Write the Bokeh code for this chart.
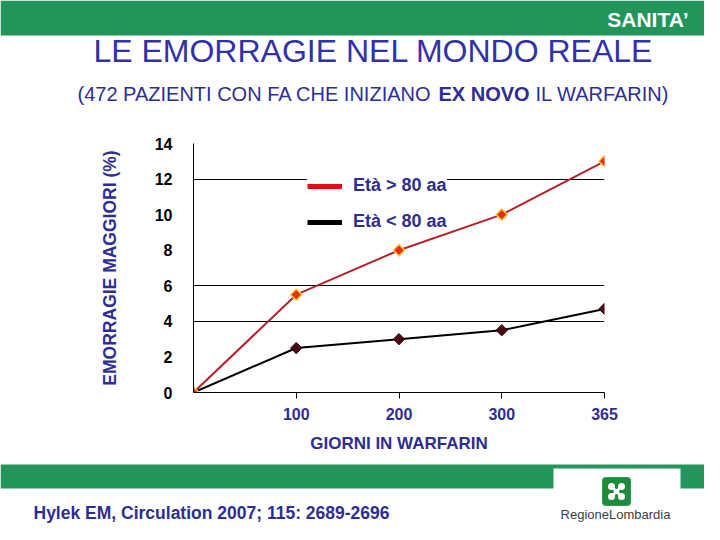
import math
from bokeh.plotting import figure
from bokeh.layouts import column, row
from bokeh.models import Range1d, FixedTicker, Legend, LegendItem
from bokeh.core.properties import value
from bokeh.embed import file_html
from bokeh.resources import INLINE

# ---------------- data ----------------
days = [0, 100, 200, 300, 365]
over80 = [0, 5.5, 8.0, 10.0, 13.0]
under80 = [0, 2.5, 3.0, 3.5, 4.7]
y_ticks = [0, 2, 4, 6, 8, 10, 12, 14]
grid_levels = [4, 6, 12]
series_names = ["Età > 80 aa", "Età < 80 aa"]

title_text = "LE EMORRAGIE NEL MONDO REALE"
sub_a = "(472 PAZIENTI CON FA CHE INIZIANO"
sub_b = "EX NOVO"
sub_c = "IL WARFARIN)"
citation = "Hylek EM, Circulation 2007; 115: 2689-2696"

FONT = value("Liberation Sans")
NAVY = "#2e2e92"
GREEN = "#21955a"
W = 704


def deco(height, y_top):
    f = figure(width=W, height=height, output_backend="svg", toolbar_location=None,
               x_range=Range1d(0, W), y_range=Range1d(y_top + height, y_top),
               x_axis_type=None, y_axis_type=None, min_border=0)
    f.outline_line_color = None
    f.xgrid.visible = False
    f.ygrid.visible = False
    f.background_fill_color = "white"
    f.border_fill_color = "white"
    return f

# ---------------- top band ----------------
top = deco(130, 0)
top.quad(left=[0], right=[720], top=[0], bottom=[35], fill_color=GREEN, line_color=None)
top.text(x=[688], y=[19], text=["SANITA’"], text_font=FONT, text_font_style="bold",
         text_font_size="21px", text_color="white", text_align="right", text_baseline="middle")
top.text(x=[373], y=[50], text=[title_text], text_font=FONT, text_font_size="32px",
         text_color="#3232a8", text_align="center", text_baseline="middle")
top.text(x=[77], y=[93], text=[sub_a], text_font=FONT, text_font_size="20px",
         text_color=NAVY, text_align="left", text_baseline="middle")
top.text(x=[438], y=[93], text=[sub_b], text_font=FONT, text_font_size="20px", text_font_style="bold",
         text_color=NAVY, text_align="left", text_baseline="middle")
top.text(x=[535], y=[93], text=[sub_c], text_font=FONT, text_font_size="20px",
         text_color=NAVY, text_align="left", text_baseline="middle")

# ---------------- main chart ----------------
xs = list(range(len(days)))
p = figure(width=W, height=330, output_backend="svg", toolbar_location=None,
           x_range=Range1d(0, len(days) - 1), y_range=Range1d(y_ticks[0], y_ticks[-1]),
           min_border_left=193, min_border_right=100, min_border_top=13, min_border_bottom=68)
p.outline_line_color = None
p.xgrid.visible = False
p.ygrid.visible = False
p.background_fill_color = "white"
p.border_fill_color = "white"

p.hspan(y=grid_levels, line_color="black", line_width=1)

# x axis
p.xaxis.ticker = FixedTicker(ticks=xs[1:])
p.xaxis.major_label_overrides = {i: str(d) for i, d in zip(xs, days)}
p.xaxis.axis_label = "GIORNI IN WARFARIN"
p.xaxis.axis_label_text_font = "Liberation Sans"
p.xaxis.axis_label_text_font_style = "bold"
p.xaxis.axis_label_text_font_size = "17px"
p.xaxis.axis_label_text_color = NAVY
p.xaxis.axis_label_standoff = 11
p.xaxis.major_label_text_font = "Liberation Sans"
p.xaxis.major_label_text_font_style = "bold"
p.xaxis.major_label_text_font_size = "16px"
p.xaxis.major_label_text_color = NAVY
p.xaxis.major_label_standoff = 9
p.xaxis.major_tick_in = 0
p.xaxis.major_tick_out = 6
p.xaxis.major_tick_line_color = "black"
p.xaxis.minor_tick_line_color = None
p.xaxis.axis_line_color = "black"

# y axis
p.yaxis.ticker = FixedTicker(ticks=y_ticks)
p.yaxis.axis_label = "EMORRAGIE MAGGIORI (%)"
p.yaxis.axis_label_text_font = "Liberation Sans"
p.yaxis.axis_label_text_font_style = "bold"
p.yaxis.axis_label_text_font_size = "17.5px"
p.yaxis.axis_label_text_color = NAVY
p.yaxis.axis_label_standoff = 32
p.yaxis.major_label_text_font = "Liberation Sans"
p.yaxis.major_label_text_font_style = "bold"
p.yaxis.major_label_text_font_size = "16px"
p.yaxis.major_label_text_color = "black"
p.yaxis.major_label_standoff = 15
p.yaxis.major_tick_line_color = None
p.yaxis.minor_tick_line_color = None
p.yaxis.axis_line_color = "black"

# series
p.line(xs, under80, line_color="black", line_width=2)
p.scatter(xs, under80, marker="square", angle=math.pi / 4, size=8,
          fill_color="#4a0a14", line_color="#2a0008")
p.line(xs, over80, line_color="#b8202a", line_width=2)
p.scatter(xs, over80, marker="square", angle=math.pi / 4, size=8,
          fill_color="#e5300b", line_color="#ffc040", line_width=1.5)

# legend glyphs (thick lines as in the original key)
leg_red = p.line(xs, over80, line_color="#e01010", line_width=5, visible=False)
leg_blk = p.line(xs, under80, line_color="black", line_width=5, visible=False)
legend = Legend(items=[LegendItem(label=series_names[0], renderers=[leg_red]),
                       LegendItem(label=series_names[1], renderers=[leg_blk])],
                location=(114, 160), padding=12, spacing=15,
                glyph_width=35, glyph_height=20, label_height=20, label_standoff=11,
                label_text_font="Liberation Sans", label_text_font_style="bold",
                label_text_font_size="18px", label_text_color=NAVY,
                background_fill_color="white", background_fill_alpha=1.0,
                border_line_color=None)
p.add_layout(legend)

# ---------------- bottom band ----------------
bot = deco(64, 460)
bot.quad(left=[0], right=[720], top=[464], bottom=[488], fill_color=GREEN, line_color=None)
bot.quad(left=[553], right=[680], top=[468], bottom=[540], fill_color="white", line_color=None)
bot.text(x=[33], y=[512], text=[citation], text_font=FONT, text_font_style="bold",
         text_font_size="17.5px", text_color=NAVY, text_align="left", text_baseline="middle")
# Regione Lombardia logo
bot.quad(left=[602], right=[630], top=[477], bottom=[505], fill_color="#1f8a3c",
         line_color="#2aa04a", line_width=1, border_radius=3)
bot.ellipse(x=[611, 621, 611, 621], y=[486, 486, 496, 496], width=7, height=7,
            angle=0.0, fill_color="white", line_color=None)
bot.ellipse(x=[616], y=[491], width=5, height=5, fill_color="white", line_color=None)
bot.segment(x0=[610], y0=[485], x1=[622], y1=[497], line_color="white", line_width=3)
bot.segment(x0=[622], y0=[485], x1=[610], y1=[497], line_color="white", line_width=3)
bot.text(x=[615], y=[514], text=["RegioneLombardia"], text_font=value("Liberation Sans"),
         text_font_size="13px", text_color="#404040", text_align="center", text_baseline="middle")

layout = column(row(top), row(p), row(bot), spacing=0)
open("out.html", "w").write(file_html(layout, INLINE))
